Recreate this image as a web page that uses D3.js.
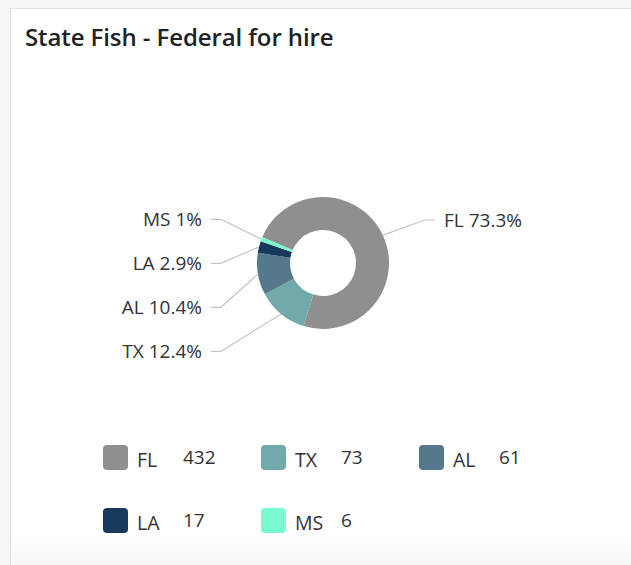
<!DOCTYPE html>
<html>
<head>
<meta charset="utf-8">
<script src="https://cdn.jsdelivr.net/npm/d3@7"></script>
<style>
  html, body { margin: 0; padding: 0; background: #f5f5f5; }
  body { width: 631px; height: 565px; overflow: hidden; }
  svg { display: block; }
</style>
</head>
<body>
<svg id="chart" width="631" height="565"></svg>
<script>
const title = "State Fish - Federal for hire";
const categories = ["FL", "TX", "AL", "LA", "MS"];
const values = [432, 73, 61, 17, 6];
const colors = ["#8f8f8f", "#72a9ab", "#56788c", "#173a5a", "#77fbcc"];

const svg = d3.select("#chart");
const W = 631, H = 565;
const font = "'Open Sans', 'Noto Sans', sans-serif";

// card
const defs = svg.append("defs");
const grad = defs.append("linearGradient").attr("id", "fade").attr("x1", 0).attr("y1", 0).attr("x2", 0).attr("y2", 1);
grad.append("stop").attr("offset", "0%").attr("stop-color", "#ffffff");
grad.append("stop").attr("offset", "100%").attr("stop-color", "#f7f7f7");
svg.append("rect").attr("x", 10.5).attr("y", 8.5).attr("width", W).attr("height", H)
  .attr("fill", "#fff").attr("stroke", "#e2e2e2");
svg.append("rect").attr("x", 11).attr("y", 535).attr("width", W).attr("height", 30).attr("fill", "url(#fade)");

svg.append("text").attr("x", 25).attr("y", 46)
  .attr("font-family", font).attr("font-weight", 600).attr("font-size", 24)
  .attr("letter-spacing", -0.1)
  .attr("fill", "#222").text(title);

const cx = 323, cy = 263, R = 66, r = 33;
const total = d3.sum(values);
const fmt = d3.format(".1~f");
const color = d3.scaleOrdinal().domain(categories).range(colors);

const pie = d3.pie().sort(null).value(d => d.v)
  .startAngle(-67 * Math.PI / 180).endAngle(293 * Math.PI / 180);
const data = categories.map((c, i) => ({ c, v: values[i] }));
const arcs = pie(data);
const arc = d3.arc().innerRadius(r).outerRadius(R);

const g = svg.append("g").attr("transform", `translate(${cx},${cy})`);
g.selectAll("path").data(arcs).join("path")
  .attr("d", arc).attr("fill", d => color(d.data.c));

// labels
const rl = 121, gap = 44;
const labels = arcs.map(a => {
  const mid = (a.startAngle + a.endAngle) / 2;
  const side = Math.sin(mid) >= 0 ? 1 : -1;
  return { a, mid, side, y: -rl * Math.cos(mid),
    ax: R * Math.sin(mid), ay: -R * Math.cos(mid) };
});
[1, -1].forEach(s => {
  const grp = labels.filter(l => l.side === s).sort((p, q) => p.y - q.y);
  for (let i = 1; i < grp.length; i++) grp[i].y = grp[0].y + i * gap;
});
labels.forEach(l => {
  if (l.side === 1) l.y = Math.max(l.y, -43);
});
const lg = svg.append("g").attr("transform", `translate(${cx},${cy})`);
labels.forEach(l => {
  const hx1 = l.side * 102, hx2 = l.side * 112;
  lg.append("polyline")
    .attr("points", `${l.ax},${l.ay} ${hx1},${l.y} ${hx2},${l.y}`)
    .attr("fill", "none").attr("stroke", "#c4c4c4").attr("stroke-width", 1.2);
  lg.append("text")
    .attr("x", l.side * 121).attr("y", l.y).attr("dy", "0.36em")
    .attr("text-anchor", l.side === 1 ? "start" : "end")
    .attr("font-family", font).attr("font-size", 19).attr("fill", "#333")
    .text(`${l.a.data.c} ${fmt(l.a.data.v / total * 100)}%`);
});

// legend
const legend = svg.append("g");
const colW = 158, rowH = 63, x0 = 103, y0 = 445;
data.forEach((d, i) => {
  const col = i % 3, row = Math.floor(i / 3);
  const x = x0 + col * colW, y = y0 + row * rowH;
  legend.append("rect").attr("x", x).attr("y", y).attr("width", 25).attr("height", 25)
    .attr("rx", 4).attr("fill", color(d.c));
  legend.append("text").attr("x", x + 34).attr("y", y + 22)
    .attr("font-family", font).attr("font-size", 19.5).attr("fill", "#333").text(d.c);
  legend.append("text").attr("x", x + 80).attr("y", y + 19)
    .attr("font-family", font).attr("font-size", 19).attr("fill", "#333").text(d.v);
});
</script>
</body>
</html>
